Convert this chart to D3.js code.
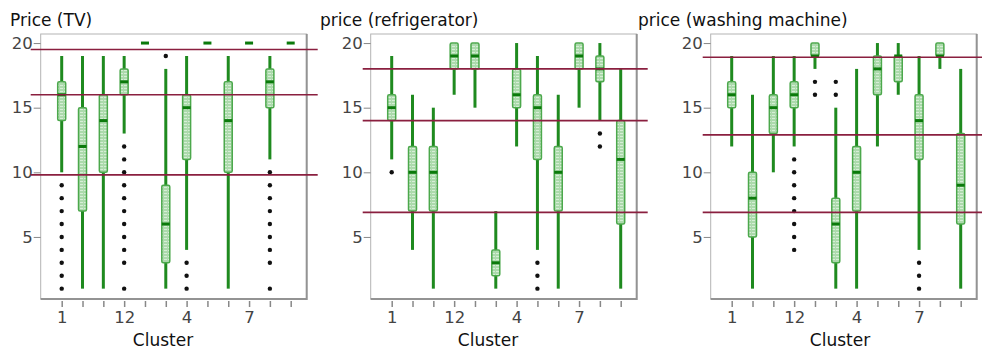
<!DOCTYPE html>
<html>
<head>
<meta charset="utf-8">
<script src="https://cdn.jsdelivr.net/npm/d3@7"></script>
<style>
  body { margin: 0; background: #fff; }
  text { font-family: "DejaVu Sans", Verdana, sans-serif; }
</style>
</head>
<body>
<div class="container"></div>
<script>
// cluster order as shown (sorted as text)
let clusters = ['1', '10', '11', '12', '2', '3', '4', '5', '6', '7', '8', '9']
let shownTicks = ['1', '12', '4', '7']
let yTicks = [5, 10, 15, 20]
let titles = ['Price (TV)', 'price (refrigerator)', 'price (washing machine)']

// [low whisker, q1, median, q3, high whisker] per cluster
let tvBoxes = [
    [10, 14, 16, 17, 19], [1, 7, 12, 15, 19], [1, 10, 14, 16, 19], [13, 16, 17, 18, 19],
    [20, 20, 20, 20, 20], [1, 3, 6, 9, 18], [4, 11, 15, 16, 19], [20, 20, 20, 20, 20],
    [1, 10, 14, 17, 19], [20, 20, 20, 20, 20], [11, 15, 17, 18, 19], [20, 20, 20, 20, 20]
]
let tvOutliers = [
    [1, 2, 3, 4, 5, 6, 7, 8, 9], [], [], [1, 3, 4, 5, 6, 7, 8, 9, 10, 11, 12],
    [], [19], [1, 2, 3], [], [], [], [1, 3, 4, 5, 6, 7, 8, 9, 10], []
]
let tvLines = [19.5, 16, 9.8]

let fridgeBoxes = [
    [11, 14, 15, 16, 19], [4, 7, 10, 12, 16], [1, 7, 10, 12, 15], [16, 18, 19, 20, 20],
    [15, 18, 19, 20, 20], [1, 2, 3, 4, 7], [12, 15, 16, 18, 20], [4, 11, 15, 16, 19],
    [1, 7, 10, 12, 16], [15, 18, 19, 20, 20], [14, 17, 18, 19, 20], [1, 6, 11, 14, 18]
]
let fridgeOutliers = [
    [10], [], [], [], [], [], [], [1, 2, 3], [], [], [12, 13], []
]
let fridgeLines = [18, 14, 6.9]

let washBoxes = [
    [12, 15, 16, 17, 19], [1, 5, 8, 10, 16], [10, 13, 15, 16, 19], [12, 15, 16, 17, 19],
    [18, 19, 19, 20, 20], [1, 3, 6, 8, 15], [1, 7, 10, 12, 18], [12, 16, 18, 19, 20],
    [16, 17, 19, 19, 20], [4, 11, 14, 16, 19], [18, 19, 19, 20, 20], [1, 6, 9, 13, 18]
]
let washOutliers = [
    [], [], [], [4, 5, 6, 7, 8, 9, 10, 11], [16, 17], [16, 17], [], [], [], [1, 2, 3], [], []
]
let washLines = [18.9, 12.9, 6.9]

let panels = [
    { boxes: tvBoxes, outliers: tvOutliers, lines: tvLines },
    { boxes: fridgeBoxes, outliers: fridgeOutliers, lines: fridgeLines },
    { boxes: washBoxes, outliers: washOutliers, lines: washLines }
]

// layout
let width = 982
let height = 352
let frameLefts = [40.7, 370.7, 710.7]
let frameW = 266
let plotTop = 34
let plotBottom = 299
let titleX = [10, 320, 638]
let xLabelX = [163, 488, 840]
let lineExtra = [[-10, 11], [-8, 11], [-8, 12]]

let svg = d3.select('.container')
    .append('svg')
    .attr('width', width)
    .attr('height', height)

let defs = svg.append('defs')
let pat = defs.append('pattern')
    .attr('id', 'hatch')
    .attr('patternUnits', 'userSpaceOnUse')
    .attr('width', 4)
    .attr('height', 3)
pat.append('rect').attr('width', 4).attr('height', 3).attr('fill', '#acdaac')
pat.append('rect').attr('y', 1).attr('width', 3).attr('height', 1).attr('fill', '#d6eed6')

let yScale = d3.scaleLinear()
    .domain([0.2, 20.7])
    .range([plotBottom, plotTop])

panels.forEach((p, k) => {
    let left = frameLefts[k]
    let g = svg.append('g')

    let xScale = d3.scalePoint()
        .domain(clusters)
        .range([left + 21, left + 21 + 229])

    // frame
    g.append('rect')
        .attr('x', left)
        .attr('y', plotTop)
        .attr('width', frameW)
        .attr('height', plotBottom - plotTop)
        .attr('fill', '#fff')
        .attr('stroke', '#b4b4b4')
        .attr('stroke-width', 1)
    g.append('path')
        .attr('d', `M${left + frameW},${plotTop}V${plotBottom}H${left}`)
        .attr('fill', 'none')
        .attr('stroke', '#939393')
        .attr('stroke-width', 2)

    // y axis
    let yAxis = d3.axisLeft(yScale)
        .tickValues(yTicks)
        .tickSize(7)
        .tickPadding(1)
    let ya = g.append('g')
        .attr('class', 'y axis')
        .attr('transform', `translate(${left},0)`)
        .call(yAxis)
    ya.select('.domain').remove()
    ya.selectAll('line').attr('stroke', '#888')
    ya.selectAll('text')
        .attr('fill', '#444')
        .style('font-size', '16.5px')

    // x axis
    let xAxis = d3.axisBottom(xScale)
        .tickSize(6)
        .tickPadding(4)
        .tickFormat(d => shownTicks.includes(d) ? d : '')
    let xa = g.append('g')
        .attr('class', 'x axis')
        .attr('transform', `translate(0,${plotBottom + 2})`)
        .call(xAxis)
    xa.select('.domain').remove()
    xa.selectAll('line').attr('stroke', '#888').attr('stroke-width', 1.5)
    xa.selectAll('text')
        .attr('fill', '#444')
        .style('font-size', '16.5px')

    let items = g.selectAll('.item')
        .data(p.boxes.map((b, i) => ({ c: clusters[i], b: b, out: p.outliers[i] })))
        .enter()
        .append('g')
        .attr('class', 'item')

    // whiskers
    items.filter(d => d.b[4] > d.b[0])
        .append('line')
        .attr('x1', d => xScale(d.c))
        .attr('x2', d => xScale(d.c))
        .attr('y1', d => yScale(d.b[0]))
        .attr('y2', d => yScale(d.b[4]))
        .attr('stroke', '#1f8a1f')
        .attr('stroke-width', 3)

    // boxes
    let bw = 8
    items.filter(d => d.b[3] > d.b[1])
        .append('rect')
        .attr('x', d => xScale(d.c) - bw / 2)
        .attr('y', d => yScale(d.b[3]))
        .attr('width', bw)
        .attr('height', d => yScale(d.b[1]) - yScale(d.b[3]))
        .attr('rx', 1.5)
        .attr('fill', 'url(#hatch)')
        .attr('stroke', '#4ca84c')
        .attr('stroke-width', 1.5)

    // medians
    items.append('rect')
        .attr('x', d => xScale(d.c) - bw / 2)
        .attr('y', d => yScale(d.b[2]) - 1.5)
        .attr('width', bw)
        .attr('height', 3)
        .attr('fill', '#0b7a0b')

    // outliers
    items.selectAll('circle')
        .data(d => d.out.map(v => ({ c: d.c, v: v })))
        .enter()
        .append('circle')
        .attr('cx', d => xScale(d.c))
        .attr('cy', d => yScale(d.v))
        .attr('r', 2.2)
        .attr('fill', '#111')

    // reference lines
    g.selectAll('.ref')
        .data(p.lines)
        .enter()
        .append('line')
        .attr('class', 'ref')
        .attr('x1', left + lineExtra[k][0])
        .attr('x2', left + frameW + lineExtra[k][1])
        .attr('y1', d => yScale(d))
        .attr('y2', d => yScale(d))
        .attr('stroke', '#8a1f3f')
        .attr('stroke-width', 1.6)

    // titles
    g.append('text')
        .attr('x', titleX[k])
        .attr('y', 26)
        .style('font-size', '17px')
        .attr('fill', '#111')
        .text(titles[k])

    g.append('text')
        .attr('x', xLabelX[k])
        .attr('y', 346)
        .attr('text-anchor', 'middle')
        .style('font-size', '17px')
        .attr('fill', '#111')
        .text('Cluster')
})
</script>
</body>
</html>
